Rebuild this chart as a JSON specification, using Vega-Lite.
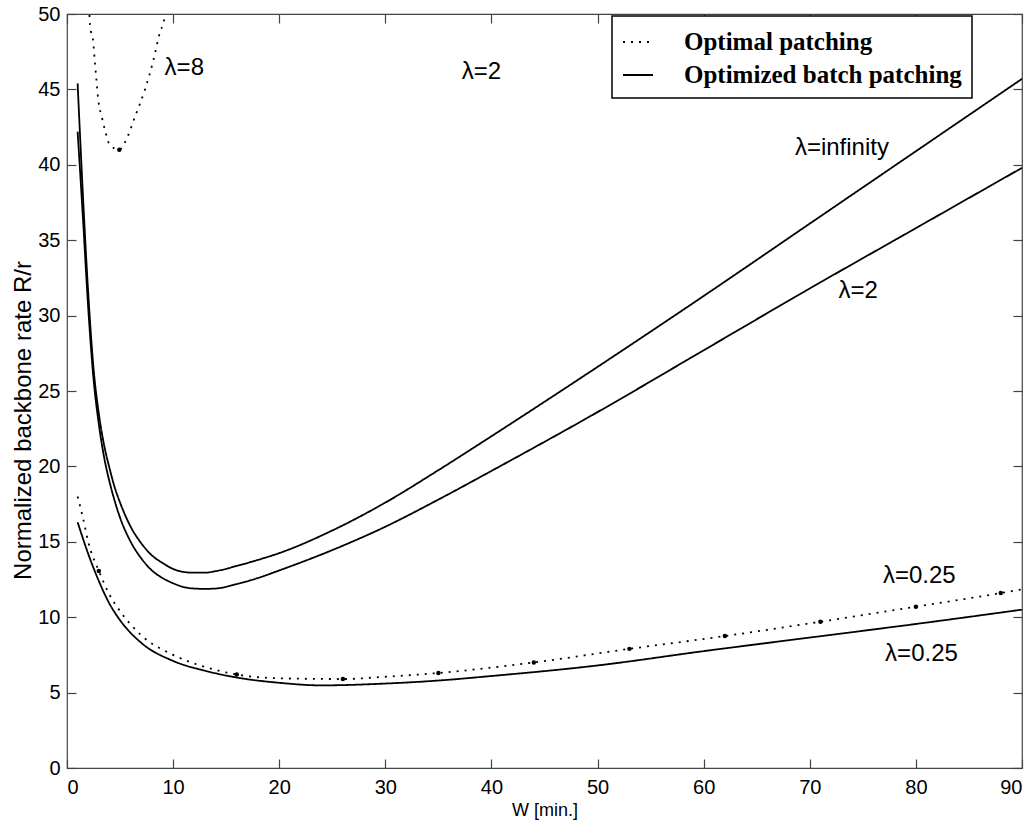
{
  "$schema": "https://vega.github.io/schema/vega-lite/v6.json",
  "width": 955,
  "height": 754,
  "autosize": {"type": "none"},
  "padding": {"left": 67, "top": 14, "right": 14, "bottom": 56},
  "background": "white",
  "datasets": {
    "curves": [
      {"curve": "inf", "method": "Optimized batch patching", "x": 1.0, "y": 45.4},
      {"curve": "inf", "method": "Optimized batch patching", "x": 1.5, "y": 38.0},
      {"curve": "inf", "method": "Optimized batch patching", "x": 2.0, "y": 31.5},
      {"curve": "inf", "method": "Optimized batch patching", "x": 2.5, "y": 26.5},
      {"curve": "inf", "method": "Optimized batch patching", "x": 3.0, "y": 23.5},
      {"curve": "inf", "method": "Optimized batch patching", "x": 3.5, "y": 21.4},
      {"curve": "inf", "method": "Optimized batch patching", "x": 4.0, "y": 19.9},
      {"curve": "inf", "method": "Optimized batch patching", "x": 4.5, "y": 18.6},
      {"curve": "inf", "method": "Optimized batch patching", "x": 5.0, "y": 17.6},
      {"curve": "inf", "method": "Optimized batch patching", "x": 6.0, "y": 16.0},
      {"curve": "inf", "method": "Optimized batch patching", "x": 7.0, "y": 14.9},
      {"curve": "inf", "method": "Optimized batch patching", "x": 8.0, "y": 14.1},
      {"curve": "inf", "method": "Optimized batch patching", "x": 9.0, "y": 13.6},
      {"curve": "inf", "method": "Optimized batch patching", "x": 10.0, "y": 13.2},
      {"curve": "inf", "method": "Optimized batch patching", "x": 11.0, "y": 13.0},
      {"curve": "inf", "method": "Optimized batch patching", "x": 12.0, "y": 12.95},
      {"curve": "inf", "method": "Optimized batch patching", "x": 13.0, "y": 12.95},
      {"curve": "inf", "method": "Optimized batch patching", "x": 14.0, "y": 13.05},
      {"curve": "inf", "method": "Optimized batch patching", "x": 16.0, "y": 13.4},
      {"curve": "inf", "method": "Optimized batch patching", "x": 18.0, "y": 13.8},
      {"curve": "inf", "method": "Optimized batch patching", "x": 20.0, "y": 14.25},
      {"curve": "inf", "method": "Optimized batch patching", "x": 25.0, "y": 15.75},
      {"curve": "inf", "method": "Optimized batch patching", "x": 30.0, "y": 17.6},
      {"curve": "inf", "method": "Optimized batch patching", "x": 35.0, "y": 19.75},
      {"curve": "inf", "method": "Optimized batch patching", "x": 40.0, "y": 22.0},
      {"curve": "inf", "method": "Optimized batch patching", "x": 50.0, "y": 26.6},
      {"curve": "inf", "method": "Optimized batch patching", "x": 60.0, "y": 31.3},
      {"curve": "inf", "method": "Optimized batch patching", "x": 70.0, "y": 36.1},
      {"curve": "inf", "method": "Optimized batch patching", "x": 80.0, "y": 40.9},
      {"curve": "inf", "method": "Optimized batch patching", "x": 90.0, "y": 45.7},
      {"curve": "l2", "method": "Optimized batch patching", "x": 1.0, "y": 42.2},
      {"curve": "l2", "method": "Optimized batch patching", "x": 1.5, "y": 36.5},
      {"curve": "l2", "method": "Optimized batch patching", "x": 2.0, "y": 30.5},
      {"curve": "l2", "method": "Optimized batch patching", "x": 2.5, "y": 25.8},
      {"curve": "l2", "method": "Optimized batch patching", "x": 3.0, "y": 22.8},
      {"curve": "l2", "method": "Optimized batch patching", "x": 3.5, "y": 20.6},
      {"curve": "l2", "method": "Optimized batch patching", "x": 4.0, "y": 19.0},
      {"curve": "l2", "method": "Optimized batch patching", "x": 4.5, "y": 17.7},
      {"curve": "l2", "method": "Optimized batch patching", "x": 5.0, "y": 16.6},
      {"curve": "l2", "method": "Optimized batch patching", "x": 6.0, "y": 15.0},
      {"curve": "l2", "method": "Optimized batch patching", "x": 7.0, "y": 13.9},
      {"curve": "l2", "method": "Optimized batch patching", "x": 8.0, "y": 13.1},
      {"curve": "l2", "method": "Optimized batch patching", "x": 9.0, "y": 12.6},
      {"curve": "l2", "method": "Optimized batch patching", "x": 10.0, "y": 12.25},
      {"curve": "l2", "method": "Optimized batch patching", "x": 11.0, "y": 12.0},
      {"curve": "l2", "method": "Optimized batch patching", "x": 12.0, "y": 11.9},
      {"curve": "l2", "method": "Optimized batch patching", "x": 13.0, "y": 11.88},
      {"curve": "l2", "method": "Optimized batch patching", "x": 14.0, "y": 11.9},
      {"curve": "l2", "method": "Optimized batch patching", "x": 16.0, "y": 12.2},
      {"curve": "l2", "method": "Optimized batch patching", "x": 18.0, "y": 12.6},
      {"curve": "l2", "method": "Optimized batch patching", "x": 20.0, "y": 13.1},
      {"curve": "l2", "method": "Optimized batch patching", "x": 25.0, "y": 14.45},
      {"curve": "l2", "method": "Optimized batch patching", "x": 30.0, "y": 16.0},
      {"curve": "l2", "method": "Optimized batch patching", "x": 35.0, "y": 17.8},
      {"curve": "l2", "method": "Optimized batch patching", "x": 40.0, "y": 19.7},
      {"curve": "l2", "method": "Optimized batch patching", "x": 50.0, "y": 23.6},
      {"curve": "l2", "method": "Optimized batch patching", "x": 60.0, "y": 27.7},
      {"curve": "l2", "method": "Optimized batch patching", "x": 70.0, "y": 31.8},
      {"curve": "l2", "method": "Optimized batch patching", "x": 80.0, "y": 35.8},
      {"curve": "l2", "method": "Optimized batch patching", "x": 90.0, "y": 39.8},
      {"curve": "b025", "method": "Optimized batch patching", "x": 1.0, "y": 16.3},
      {"curve": "b025", "method": "Optimized batch patching", "x": 2.0, "y": 14.2},
      {"curve": "b025", "method": "Optimized batch patching", "x": 3.0, "y": 12.4},
      {"curve": "b025", "method": "Optimized batch patching", "x": 4.0, "y": 10.9},
      {"curve": "b025", "method": "Optimized batch patching", "x": 5.0, "y": 9.8},
      {"curve": "b025", "method": "Optimized batch patching", "x": 7.0, "y": 8.3},
      {"curve": "b025", "method": "Optimized batch patching", "x": 10.0, "y": 7.1},
      {"curve": "b025", "method": "Optimized batch patching", "x": 13.0, "y": 6.45},
      {"curve": "b025", "method": "Optimized batch patching", "x": 16.0, "y": 6.0},
      {"curve": "b025", "method": "Optimized batch patching", "x": 20.0, "y": 5.65},
      {"curve": "b025", "method": "Optimized batch patching", "x": 24.0, "y": 5.48},
      {"curve": "b025", "method": "Optimized batch patching", "x": 30.0, "y": 5.6},
      {"curve": "b025", "method": "Optimized batch patching", "x": 35.0, "y": 5.8},
      {"curve": "b025", "method": "Optimized batch patching", "x": 40.0, "y": 6.1},
      {"curve": "b025", "method": "Optimized batch patching", "x": 50.0, "y": 6.8},
      {"curve": "b025", "method": "Optimized batch patching", "x": 60.0, "y": 7.75},
      {"curve": "b025", "method": "Optimized batch patching", "x": 70.0, "y": 8.65},
      {"curve": "b025", "method": "Optimized batch patching", "x": 80.0, "y": 9.55},
      {"curve": "b025", "method": "Optimized batch patching", "x": 90.0, "y": 10.5},
      {"curve": "o025", "method": "Optimal patching", "x": 1.0, "y": 18.0},
      {"curve": "o025", "method": "Optimal patching", "x": 1.5, "y": 16.6},
      {"curve": "o025", "method": "Optimal patching", "x": 2.0, "y": 15.0},
      {"curve": "o025", "method": "Optimal patching", "x": 3.0, "y": 13.07},
      {"curve": "o025", "method": "Optimal patching", "x": 4.0, "y": 11.5},
      {"curve": "o025", "method": "Optimal patching", "x": 5.0, "y": 10.4},
      {"curve": "o025", "method": "Optimal patching", "x": 7.0, "y": 8.8},
      {"curve": "o025", "method": "Optimal patching", "x": 10.0, "y": 7.5},
      {"curve": "o025", "method": "Optimal patching", "x": 13.0, "y": 6.7},
      {"curve": "o025", "method": "Optimal patching", "x": 16.0, "y": 6.2},
      {"curve": "o025", "method": "Optimal patching", "x": 20.0, "y": 5.95},
      {"curve": "o025", "method": "Optimal patching", "x": 26.0, "y": 5.9},
      {"curve": "o025", "method": "Optimal patching", "x": 30.0, "y": 6.05},
      {"curve": "o025", "method": "Optimal patching", "x": 35.0, "y": 6.3},
      {"curve": "o025", "method": "Optimal patching", "x": 44.0, "y": 7.0},
      {"curve": "o025", "method": "Optimal patching", "x": 53.0, "y": 7.9},
      {"curve": "o025", "method": "Optimal patching", "x": 62.0, "y": 8.75},
      {"curve": "o025", "method": "Optimal patching", "x": 71.0, "y": 9.7},
      {"curve": "o025", "method": "Optimal patching", "x": 80.0, "y": 10.7},
      {"curve": "o025", "method": "Optimal patching", "x": 88.0, "y": 11.6},
      {"curve": "o025", "method": "Optimal patching", "x": 90.0, "y": 11.85},
      {"curve": "o8", "method": "Optimal patching", "x": 2.05, "y": 51.0},
      {"curve": "o8", "method": "Optimal patching", "x": 2.17, "y": 49.3},
      {"curve": "o8", "method": "Optimal patching", "x": 2.48, "y": 48.1},
      {"curve": "o8", "method": "Optimal patching", "x": 2.64, "y": 46.7},
      {"curve": "o8", "method": "Optimal patching", "x": 2.8, "y": 45.4},
      {"curve": "o8", "method": "Optimal patching", "x": 2.95, "y": 44.3},
      {"curve": "o8", "method": "Optimal patching", "x": 3.27, "y": 43.2},
      {"curve": "o8", "method": "Optimal patching", "x": 3.58, "y": 42.3},
      {"curve": "o8", "method": "Optimal patching", "x": 4.05, "y": 41.3},
      {"curve": "o8", "method": "Optimal patching", "x": 4.93, "y": 41.0},
      {"curve": "o8", "method": "Optimal patching", "x": 5.47, "y": 41.5},
      {"curve": "o8", "method": "Optimal patching", "x": 6.41, "y": 43.2},
      {"curve": "o8", "method": "Optimal patching", "x": 7.35, "y": 45.0},
      {"curve": "o8", "method": "Optimal patching", "x": 8.13, "y": 46.9},
      {"curve": "o8", "method": "Optimal patching", "x": 8.77, "y": 48.8},
      {"curve": "o8", "method": "Optimal patching", "x": 9.08, "y": 49.4},
      {"curve": "o8", "method": "Optimal patching", "x": 9.4, "y": 50.5}
    ],
    "dots": [
      {"x": 4.93, "y": 41.0},
      {"x": 3.0, "y": 13.07},
      {"x": 16.0, "y": 6.2},
      {"x": 26.0, "y": 5.9},
      {"x": 35.0, "y": 6.3},
      {"x": 44.0, "y": 7.0},
      {"x": 53.0, "y": 7.9},
      {"x": 62.0, "y": 8.75},
      {"x": 71.0, "y": 9.7},
      {"x": 80.0, "y": 10.7},
      {"x": 88.0, "y": 11.6}
    ],
    "labels": [
      {"text": "λ=8", "x": 9.2, "y": 46.4},
      {"text": "λ=2", "x": 37.2, "y": 46.15},
      {"text": "λ=infinity", "x": 68.6, "y": 41.1},
      {"text": "λ=2", "x": 72.7, "y": 31.6},
      {"text": "λ=0.25", "x": 76.9, "y": 12.7},
      {"text": "λ=0.25", "x": 77.1, "y": 7.56}
    ]
  },
  "layer": [
    {
      "data": {"name": "curves"},
      "mark": {"type": "line", "clip": true, "color": "black", "strokeWidth": 1.8, "interpolate": "monotone"},
      "encoding": {
        "x": {"field": "x", "type": "quantitative",
              "scale": {"domain": [0, 90], "nice": false, "zero": false},
              "axis": {"orient": "bottom", "values": [0, 10, 20, 30, 40, 50, 60, 70, 80, 90], "title": "W [min.]", "labelPadding": 18, "titlePadding": 4}},
        "y": {"field": "y", "type": "quantitative",
              "scale": {"domain": [0, 50], "nice": false},
              "axis": {"orient": "left", "values": [0, 5, 10, 15, 20, 25, 30, 35, 40, 45, 50], "title": "Normalized backbone rate R/r", "labelPadding": 16, "titlePadding": 2, "titleFontSize": 24, "titleY": 406}},
        "detail": {"field": "curve"},
        "strokeDash": {"field": "method", "type": "nominal",
                       "scale": {"domain": ["Optimal patching", "Optimized batch patching"], "range": [[2, 6], [1, 0]]},
                       "legend": {"title": null, "orient": "none", "legendX": 545, "legendY": 2,
                                  "strokeColor": "black", "fillColor": "white", "padding": 10,
                                  "symbolType": "stroke", "symbolSize": 900, "symbolStrokeWidth": 1.8, "symbolStrokeColor": "black",
                                  "labelFont": "Liberation Serif", "labelFontWeight": "bold", "labelFontSize": 25, "labelColor": "black",
                                  "labelOffset": 30, "rowPadding": 4, "labelLimit": 500}}
      }
    },
    {
      "data": {"name": "dots"},
      "mark": {"type": "point", "filled": true, "color": "black", "size": 20, "opacity": 1},
      "encoding": {
        "x": {"field": "x", "type": "quantitative",
              "axis": {"orient": "top", "values": [0, 10, 20, 30, 40, 50, 60, 70, 80, 90], "labels": false, "title": null}},
        "y": {"field": "y", "type": "quantitative",
              "axis": {"orient": "right", "values": [0, 5, 10, 15, 20, 25, 30, 35, 40, 45, 50], "labels": false, "title": null}}
      }
    },
    {
      "data": {"name": "labels"},
      "mark": {"type": "text", "align": "left", "baseline": "middle", "font": "Liberation Sans", "fontSize": 24, "color": "black"},
      "encoding": {
        "x": {"field": "x", "type": "quantitative", "axis": null},
        "y": {"field": "y", "type": "quantitative", "axis": null},
        "text": {"field": "text"}
      }
    }
  ],
  "resolve": {"axis": {"x": "independent", "y": "independent"}},
  "config": {
    "font": "Liberation Sans",
    "view": {"stroke": "#444", "strokeWidth": 1.2},
    "legend": {"strokeWidth": 1.5},
    "axis": {"domain": false, "grid": false, "tickColor": "#444", "tickSize": -9, "tickWidth": 1.2,
             "labelFont": "Liberation Sans", "labelFontSize": 20, "labelColor": "black",
             "titleFont": "Liberation Sans", "titleFontSize": 18, "titleFontWeight": "normal", "titleColor": "black"}
  }
}
